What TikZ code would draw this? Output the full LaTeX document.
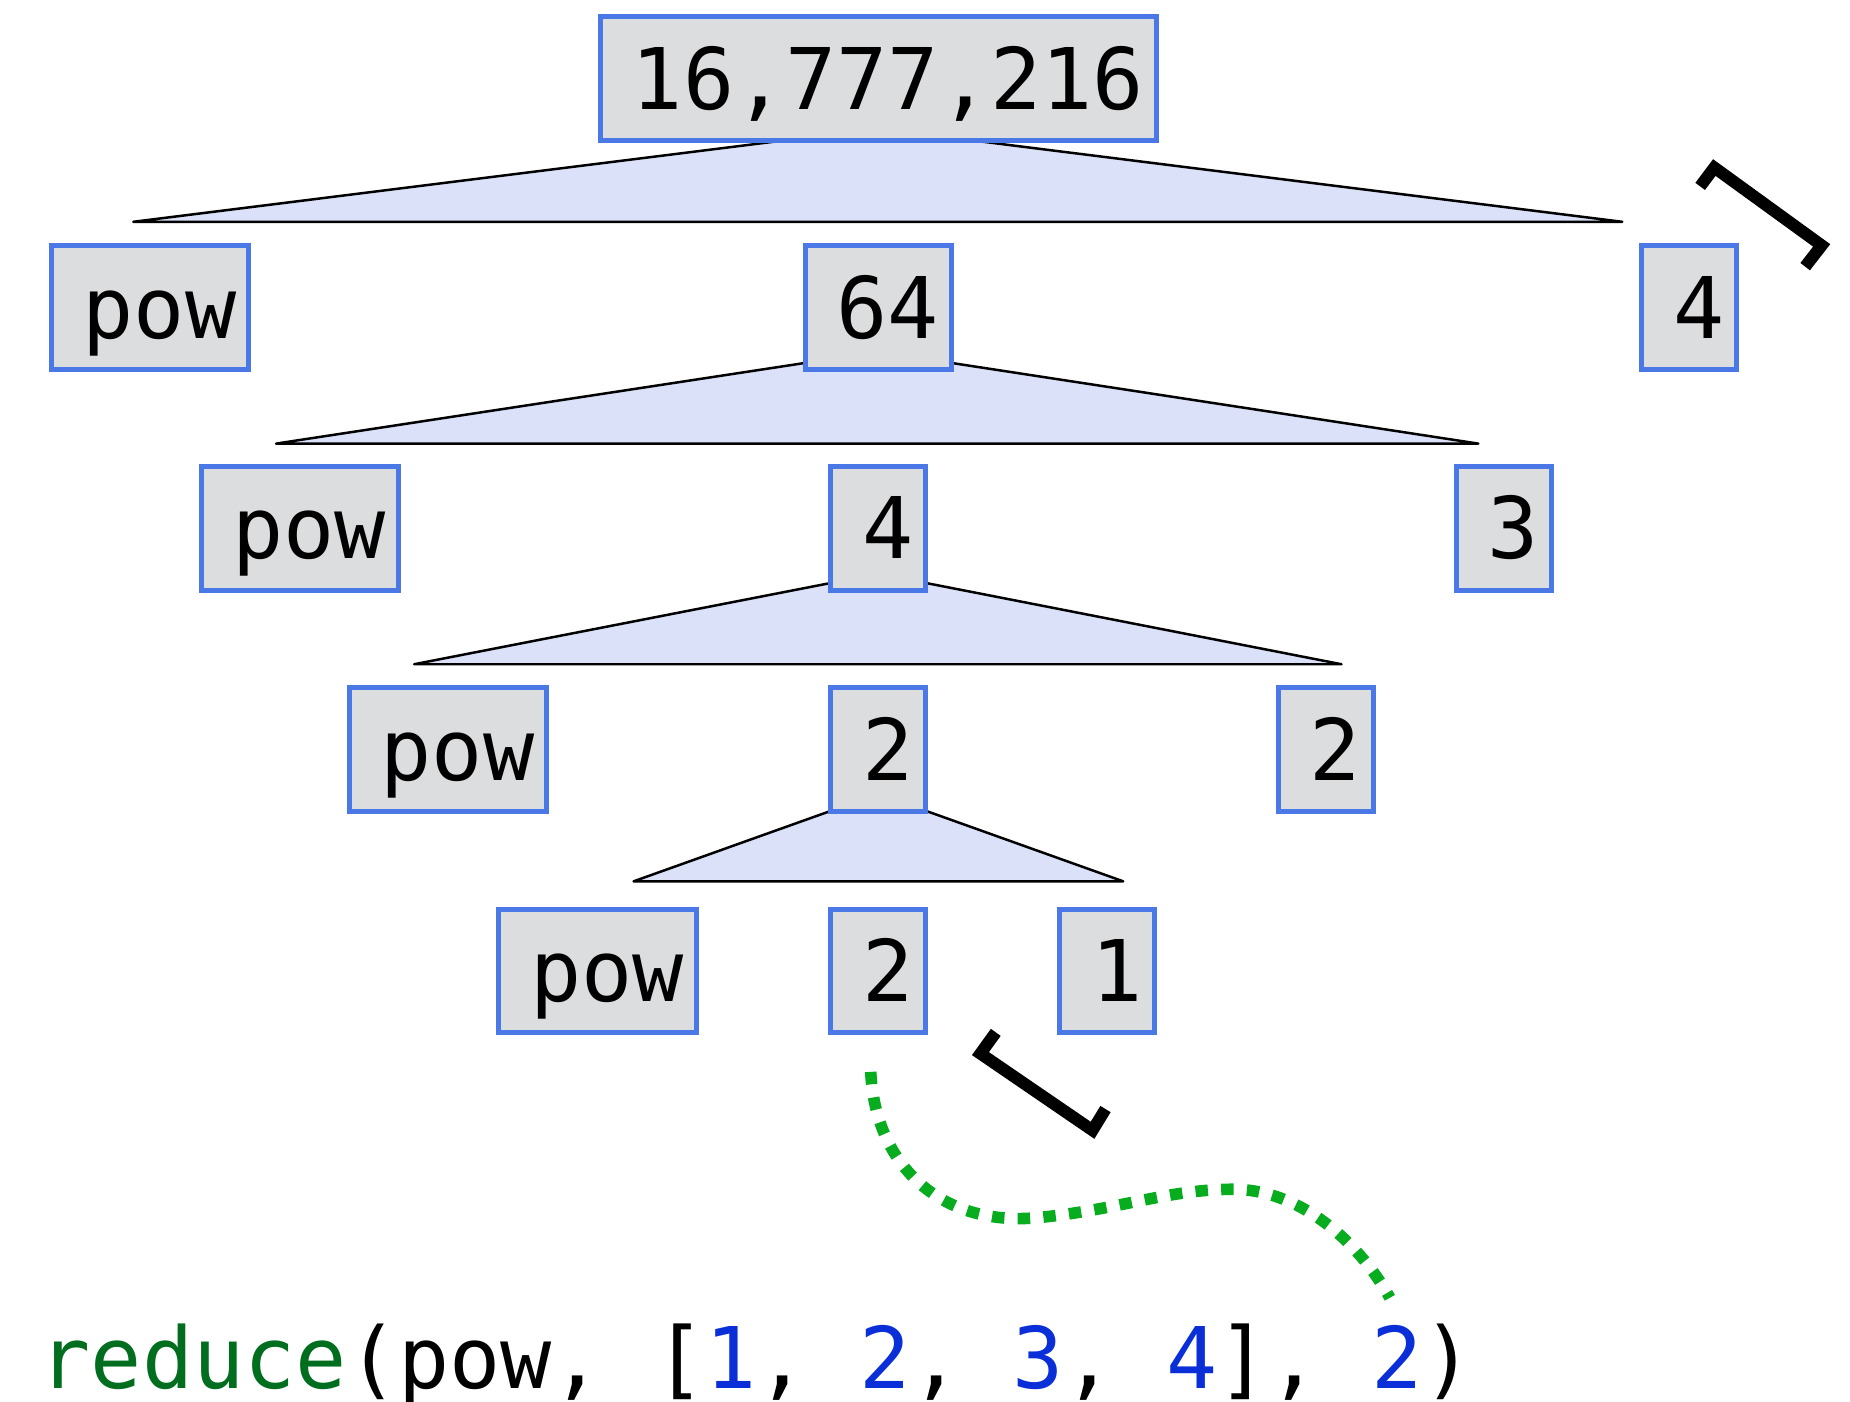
\documentclass[tikz,border=0pt]{standalone}
\usepackage{fontspec}
\setmonofont{DejaVu Sans Mono}
\usepackage{tikz}
\usetikzlibrary{positioning, backgrounds}
\definecolor{boxgray}{HTML}{DCDDDF}
\definecolor{boxblue}{HTML}{4A78E6}
\definecolor{wedgeblue}{HTML}{DAE1F8}
\definecolor{fngreen}{HTML}{006E1E}
\definecolor{numblue}{HTML}{0A2ED8}
\definecolor{linkgreen}{HTML}{07AD1E}
\newcommand{\codefont}{\ttfamily\fontsize{20.5}{24}\selectfont}
\newcommand{\num}[1]{\textcolor{numblue}{#1}}
\tikzstyle{valbox} = [draw=boxblue, fill=boxgray, rectangle, line width=1.2pt, inner xsep=0.185cm, minimum height=1.048cm, text height=0.52cm, text depth=0pt, font=\codefont, execute at begin node=\hspace*{0.08cm}, execute at end node=\hspace*{-0.08cm}]
\tikzstyle{wedge} = [draw=black, fill=wedgeblue, line width=0.6pt, line join=round]
\tikzstyle{bracket} = [draw=black, line width=2.9pt, line join=miter]
\tikzstyle{link} = [draw=linkgreen, line width=2.8pt, dash pattern=on 3pt off 3.2pt]

\begin{document}
\begin{tikzpicture}[x=0.01cm, y=-0.01cm, on grid]
  \useasboundingbox (0,0) rectangle (1568,1188);
  \node[valbox] (total) at (744.5,66.5) {16,777,216};
  \node[valbox, below=1.94cm of total] (mid1) {64};
  \node[valbox, left=6.17cm of mid1] (fn1) {pow};
  \node[valbox, right=6.87cm of mid1] (arg1) {4};
  \node[valbox, below=1.87cm of mid1] (mid2) {4};
  \node[valbox, left=4.90cm of mid2] (fn2) {pow};
  \node[valbox, right=5.30cm of mid2] (arg2) {3};
  \node[valbox, below=1.875cm of mid2] (mid3) {2};
  \node[valbox, left=3.645cm of mid3] (fn3) {pow};
  \node[valbox, right=3.79cm of mid3] (arg3) {2};
  \node[valbox, below=1.875cm of mid3] (mid4) {2};
  \node[valbox, left=2.38cm of mid4] (fn4) {pow};
  \node[valbox, right=1.94cm of mid4] (arg4) {1};
  \node[anchor=base west, inner sep=0pt, font=\codefont] (call) at (33,1177) {\textcolor{fngreen}{reduce}(pow, [\num{1}, \num{2}, \num{3}, \num{4}], \num{2})};
  % wedges behind the boxes
  \begin{scope}[on background layer]
    \draw[wedge] ([yshift=0.12cm]total.south) -- (113,188) -- (1375,188) -- cycle;
    \draw[wedge] ([yshift=0.17cm]mid1.south) -- (234,376) -- (1253,376) -- cycle;
    \draw[wedge] ([yshift=0.16cm]mid2.south) -- (351,563) -- (1137,563) -- cycle;
    \draw[wedge] ([yshift=0.17cm]mid3.south) -- (537,747) -- (952,747) -- cycle;
  \end{scope}
  \draw[bracket] (1441,158) -- (1453,142) -- (1544,208) -- (1530,226);
  \draw[bracket] (844,875) -- (831,893) -- (926,958) -- (937,940);
  \coordinate (linkstart) at ([xshift=-0.065cm, yshift=-0.31cm]mid4.south);
  \coordinate (linkend) at (1178,1100);
  \draw[link] (linkstart) .. controls (742,990) and (800,1040) .. (880,1032)
    .. controls (950,1025) and (990,1008) .. (1045,1008)
    .. controls (1100,1008) and (1150,1050) .. (linkend);
\end{tikzpicture}
\end{document}
